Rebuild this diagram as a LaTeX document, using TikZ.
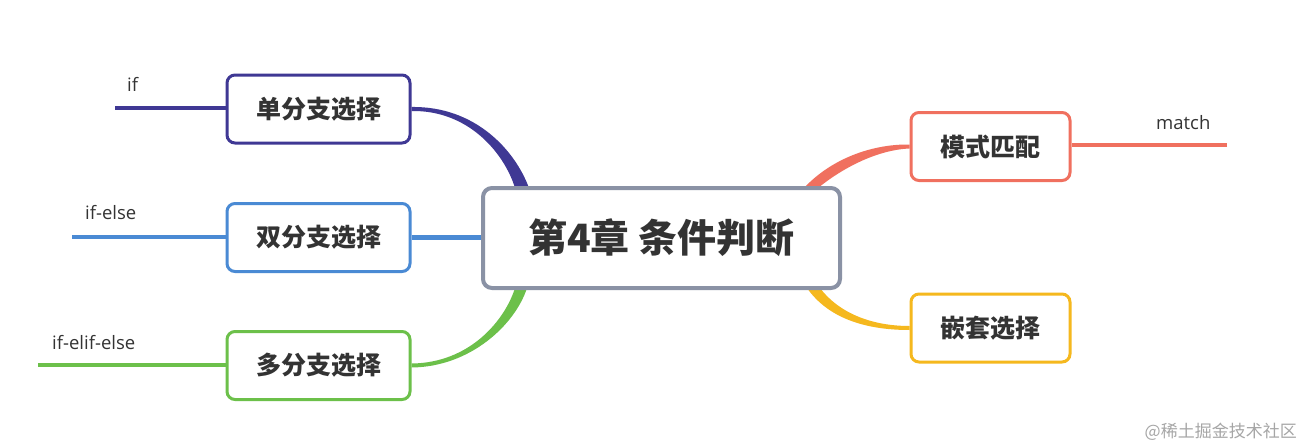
\documentclass[tikz,border=0pt]{standalone}
\usepackage{fontspec}
\setmainfont{Open Sans}
\newfontfamily\cjk{Noto Sans CJK SC}
\usetikzlibrary{calc}
\pgfdeclarelayer{bg}
\pgfsetlayers{bg,main}
\definecolor{cpurple}{HTML}{3F3894}
\definecolor{cblue}{HTML}{4A8AD4}
\definecolor{cgreen}{HTML}{6CC04A}
\definecolor{cred}{HTML}{F0705F}
\definecolor{cyellow}{HTML}{F5B81E}
\definecolor{cgray}{HTML}{8A92A5}
\definecolor{ctext}{HTML}{333333}
\begin{document}
\begin{tikzpicture}[x=1pt,y=-1pt,
  child/.style={draw=#1,line width=3pt,rounded corners=8pt,fill=white,
    minimum height=68pt,inner sep=0pt,
    font=\cjk\bfseries\fontsize{25}{28}\selectfont,text=ctext},
  leftchild/.style={child=#1,minimum width=183pt},
  rightchild/.style={child=#1,minimum width=159pt},
  leaf/.style={line width=3.5pt,draw=#1},
  lbl/.style={anchor=base west,inner sep=0pt,font=\fontsize{18.5}{20}\selectfont,text=ctext}]
\begin{pgfonlayer}{bg}
\useasboundingbox[fill=white] (0,0) rectangle (1307,447);
\end{pgfonlayer}
% center
\node[draw=cgray,line width=4pt,rounded corners=9pt,fill=white,
  minimum width=357pt,minimum height=100pt,inner sep=0pt,
  font=\cjk\bfseries\fontsize{39}{44}\selectfont,text=ctext] (c) at (661.5,238) {第4章 条件判断};
% children
\node[leftchild=cpurple] (b1) at (318.5,109) {单分支选择};
\node[leftchild=cblue] (b2) at (318.5,237.5) {双分支选择};
\node[leftchild=cgreen] (b3) at (318.5,365.5) {多分支选择};
\node[rightchild=cred] (b4) at (990.5,146.5) {模式匹配};
\node[rightchild=cyellow] (b5) at (990.5,328) {嵌套选择};
% tapered branches (behind)
\begin{pgfonlayer}{bg}
\fill[cpurple] ($(b1.east)+(0,-2)$) .. controls (475,106) and (515,150) .. ($(c.north west)+(48,2)$)
  -- ($(c.north west)+(34,2)$) .. controls (505,155) and (470,110) .. ($(b1.east)+(0,2)$) -- cycle;
\fill[cgreen] ($(b3.east)+(0,2)$) .. controls (470,367) and (515,325) .. ($(c.south west)+(46,-2)$)
  -- ($(c.south west)+(34,-2)$) .. controls (505,320) and (470,363) .. ($(b3.east)+(0,-2)$) -- cycle;
\fill[cred] ($(b4.west)+(0,-2)$) .. controls (870,144) and (830,160) .. ($(c.north east)+(-38,2)$)
  -- ($(c.north east)+(-24,2)$) .. controls (840,170) and (875,150) .. ($(b4.west)+(0,2)$) -- cycle;
\fill[cyellow] ($(b5.west)+(0,2)$) .. controls (865,330) and (828,318) .. ($(c.south east)+(-35,-2)$)
  -- ($(c.south east)+(-22,-2)$) .. controls (838,312) and (870,326) .. ($(b5.west)+(0,-2)$) -- cycle;
\draw[line width=5pt,draw=cblue] (b2.east) -- (b2.east -| c.west);
\end{pgfonlayer}
% leaf lines
\coordinate (l1) at (115,108);
\coordinate (l2) at (72,237);
\coordinate (l3) at (38,365);
\coordinate (l4) at (1227,145);
\draw[leaf=cpurple] (l1) -- (l1 -| b1.west);
\draw[leaf=cblue] (l2) -- (l2 -| b2.west);
\draw[leaf=cgreen] (l3) -- (l3 -| b3.west);
\draw[leaf=cred] (l4) -- (l4 -| b4.east);
% labels
\node[lbl] (t1) at (127,91) {if};
\node[lbl] (t2) at (85,219) {if-else};
\node[lbl] (t3) at (52,349) {if-elif-else};
\node[lbl] (t4) at (1156,129) {match};
% watermark
\node[anchor=base east,inner sep=0pt,font=\cjk\fontsize{17}{20}\selectfont,text=black!35] (wm) at (1297,437) {@稀土掘金技术社区};
\end{tikzpicture}
\end{document}
